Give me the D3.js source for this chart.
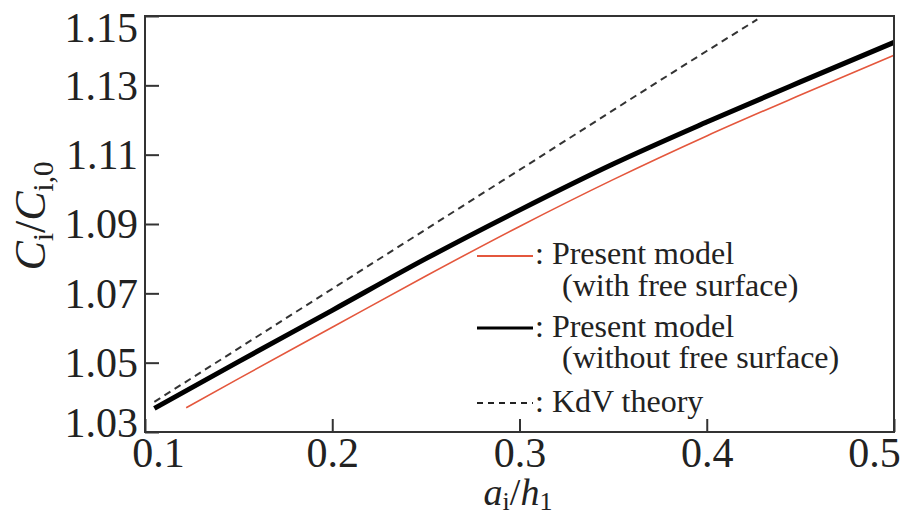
<!DOCTYPE html>
<html>
<head>
<meta charset="utf-8">
<script src="https://cdn.jsdelivr.net/npm/d3@7/dist/d3.min.js"></script>
<style>
  body { margin: 0; background: #fff; }
</style>
</head>
<body>
<svg width="910" height="518"></svg>
<script>
// values
var xTicks = [0.1, 0.2, 0.3, 0.4, 0.5];
var yTicks = [1.03, 1.05, 1.07, 1.09, 1.11, 1.13, 1.15];

// present model, with free surface (red)
var withFreeA = [0.122, 0.15, 0.2, 0.25, 0.3, 0.35, 0.4, 0.45, 0.5];
var withFreeC = [1.0370, 1.0454, 1.0602, 1.0750, 1.0893, 1.1028, 1.1154, 1.1272, 1.1387];

// present model, without free surface (thick black)
var withoutFreeA = [0.105, 0.15, 0.2, 0.25, 0.3, 0.35, 0.4, 0.45, 0.5];
var withoutFreeC = [1.0368, 1.0503, 1.0651, 1.0800, 1.0940, 1.1073, 1.1194, 1.1310, 1.1424];

// KdV theory (dashed)
var kdvA = [0.105, 0.2, 0.3, 0.4, 0.427];
var kdvC = [1.0387, 1.0713, 1.1056, 1.1399, 1.1490];

var FONT = "'Liberation Serif', 'Times New Roman', serif";

var svg = d3.select("svg"),
    width = +svg.attr("width"),
    height = +svg.attr("height");

var margin = {left: 145, right: 16, top: 16, bottom: 86};

var x = d3.scaleLinear()
    .domain([0.1, 0.5])
    .range([margin.left, width - margin.right]);

var y = d3.scaleLinear()
    .domain([1.03, 1.15])
    .range([height - margin.bottom, margin.top]);

svg.append("rect")
    .attr("width", width)
    .attr("height", height)
    .attr("fill", "#fff");

function zip(a, c) {
  return a.map(function(v, i) { return {a: v, c: c[i]}; });
}

var line = d3.line()
    .x(function(d) { return x(d.a); })
    .y(function(d) { return y(d.c); })
    .curve(d3.curveMonotoneX);

// curves
svg.append("path")
    .datum(zip(kdvA, kdvC))
    .attr("d", line)
    .attr("fill", "none")
    .attr("stroke", "#333")
    .attr("stroke-width", 2)
    .attr("stroke-dasharray", "7,5");

svg.append("path")
    .datum(zip(withFreeA, withFreeC))
    .attr("d", line)
    .attr("fill", "none")
    .attr("stroke", "#e4573d")
    .attr("stroke-width", 1.6);

svg.append("path")
    .datum(zip(withoutFreeA, withoutFreeC))
    .attr("d", line)
    .attr("fill", "none")
    .attr("stroke", "#000")
    .attr("stroke-width", 5);

// axes, ticks pointing inward
var yAxis = svg.append("g")
    .attr("transform", "translate(" + margin.left + ",0)")
    .call(d3.axisLeft(y)
      .tickValues(yTicks)
      .tickFormat(d3.format(".2f"))
      .tickSize(-14)
      .tickPadding(7));

var xAxis = svg.append("g")
    .attr("transform", "translate(0," + (height - margin.bottom) + ")")
    .call(d3.axisBottom(x)
      .tickValues(xTicks)
      .tickFormat(d3.format(".1f"))
      .tickSize(-13)
      .tickPadding(5));

[yAxis, xAxis].forEach(function(g) {
  g.attr("font-family", FONT).attr("font-size", 42);
  g.select(".domain").remove();
  g.selectAll(".tick line").attr("stroke", "#333").attr("stroke-width", 2);
  g.selectAll(".tick text")
    .attr("font-family", FONT)
    .attr("font-size", 42)
    .attr("fill", "#222");
});

// end labels are pulled inside the frame
yAxis.selectAll(".tick text")
    .attr("dy", function(d) {
      if (d === 1.15) return "0.6em";
      if (d === 1.03) return "0.1em";
      return "0.33em";
    });
xAxis.selectAll(".tick text")
    .attr("dx", function(d) {
      if (d === 0.1) return 13;
      if (d === 0.5) return -20;
      return 0;
    });

// frame
svg.append("rect")
    .attr("x", margin.left)
    .attr("y", margin.top)
    .attr("width", width - margin.left - margin.right)
    .attr("height", height - margin.top - margin.bottom)
    .attr("fill", "none")
    .attr("stroke", "#333")
    .attr("stroke-width", 2);

// axis titles
var xt = svg.append("text")
    .attr("x", 518)
    .attr("y", 505)
    .attr("text-anchor", "middle")
    .attr("font-family", FONT)
    .attr("font-size", 38)
    .attr("fill", "#222");
xt.append("tspan").attr("font-style", "italic").text("a");
xt.append("tspan").attr("dy", 5).attr("font-size", 26).text("i");
xt.append("tspan").attr("dy", -5).text("/");
xt.append("tspan").attr("font-style", "italic").text("h");
xt.append("tspan").attr("dy", 5).attr("font-size", 26).text("1");

var yt = svg.append("text")
    .attr("transform", "translate(45,216) rotate(-90)")
    .attr("text-anchor", "middle")
    .attr("font-family", FONT)
    .attr("font-size", 44)
    .attr("fill", "#222");
yt.append("tspan").attr("font-style", "italic").text("C");
yt.append("tspan").attr("dy", 8).attr("font-size", 29).text("i");
yt.append("tspan").attr("dy", -8).text("/");
yt.append("tspan").attr("font-style", "italic").text("C");
yt.append("tspan").attr("dy", 8).attr("font-size", 29).text("i,0");

// legend
var legend = [
  {y: 256, color: "#e4573d", w: 2, dash: null, rows: [[264, ": Present model"], [296, "(with free surface)"]]},
  {y: 328, color: "#000", w: 3, dash: null, rows: [[337, ": Present model"], [368, "(without free surface)"]]},
  {y: 403, color: "#222", w: 2, dash: "6,5", rows: [[412, ": KdV theory"]]}
];

legend.forEach(function(d) {
  svg.append("line")
      .attr("x1", 477)
      .attr("x2", 533)
      .attr("y1", d.y)
      .attr("y2", d.y)
      .attr("stroke", d.color)
      .attr("stroke-width", d.w)
      .attr("stroke-dasharray", d.dash);
  d.rows.forEach(function(r, i) {
    svg.append("text")
        .attr("x", i === 0 ? 535 : 562)
        .attr("y", r[0])
        .attr("font-family", FONT)
        .attr("font-size", 32)
        .attr("fill", "#222")
        .attr("xml:space", "preserve")
        .text(r[1]);
  });
});
</script>
</body>
</html>
